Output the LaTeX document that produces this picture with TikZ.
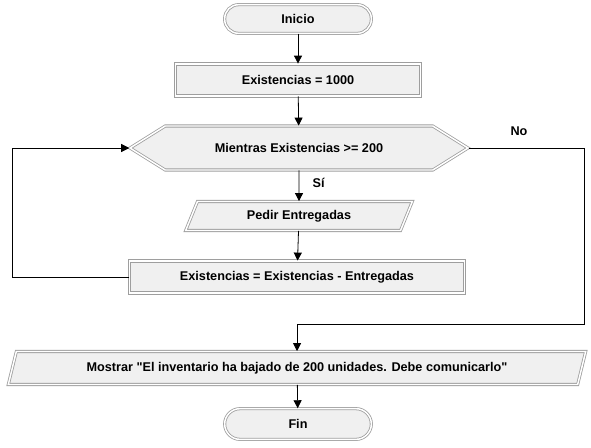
\documentclass[tikz,border=0pt]{standalone}
\usepackage{fontspec}
\setmainfont{Liberation Sans}
\usetikzlibrary{shapes.geometric,shapes.symbols,arrows.meta}

\begin{document}
\begin{tikzpicture}[x=0.75pt, y=-0.75pt,
    every node/.style={font=\fontsize{9.5}{11}\selectfont\bfseries, inner sep=0pt},
    borde/.style={draw=black!38, fill=black!6, line width=0.6pt, double=white, double distance=1.1pt},
    terminal/.style={borde, rectangle, rounded corners=10.5pt, minimum width=110pt, minimum height=21.5pt},
    proceso/.style={borde, rectangle, minimum height=24pt},
    datos/.style={borde, trapezium, trapezium left angle=63, trapezium right angle=117, trapezium stretches=true},
    decision/.style={borde, signal, signal to=east and west, signal pointer angle=64, minimum height=33pt},
    flecha/.style={-{Triangle[length=6pt, width=6pt]}, line width=0.6pt}]

    \useasboundingbox (0,0) rectangle (591,447);

    % Nodos
    \node[terminal] (inicio) at (298,19) {Inicio};
    \node[proceso, minimum width=183.75pt] (ini) at (298,80) {Existencias = 1000};
    \node[decision, minimum width=253.5pt] (mientras) at (299,148) {Mientras Existencias >= 200};
    \node[datos, minimum width=171pt, minimum height=21.75pt] (pedir) at (299,216) {Pedir Entregadas};
    \node[proceso, minimum width=251pt] (resta) at (297,277) {Existencias = Existencias - Entregadas};
    \node[datos, minimum width=435pt, minimum height=24.75pt] (mostrar) at (297,368) {Mostrar \textquotedbl El inventario ha bajado de 200 unidades. Debe comunicarlo\textquotedbl};
    \node[terminal, minimum height=23pt, rounded corners=11.5pt] (fin) at (298,424) {Fin};

    % Conectores
    \draw[flecha] (inicio) -- (ini);
    \draw[flecha] (ini) -- (mientras);
    \draw[flecha] (mientras) -- node[right=10pt, pos=0.4] (si) {Sí} (pedir);
    \draw[flecha] (pedir) -- (resta);

    % Ciclo
    \coordinate (izq) at (12,0);
    \draw[flecha] (resta.west) -- (resta.west -| izq) |- (mientras.west);

    % Salida
    \coordinate (der) at (584,324);
    \draw[flecha] (mientras.east) -| (der) -| (mostrar.north);
    \node (no) at (519,131) {No};
    \draw[flecha] (mostrar) -- (fin);
\end{tikzpicture}
\end{document}
